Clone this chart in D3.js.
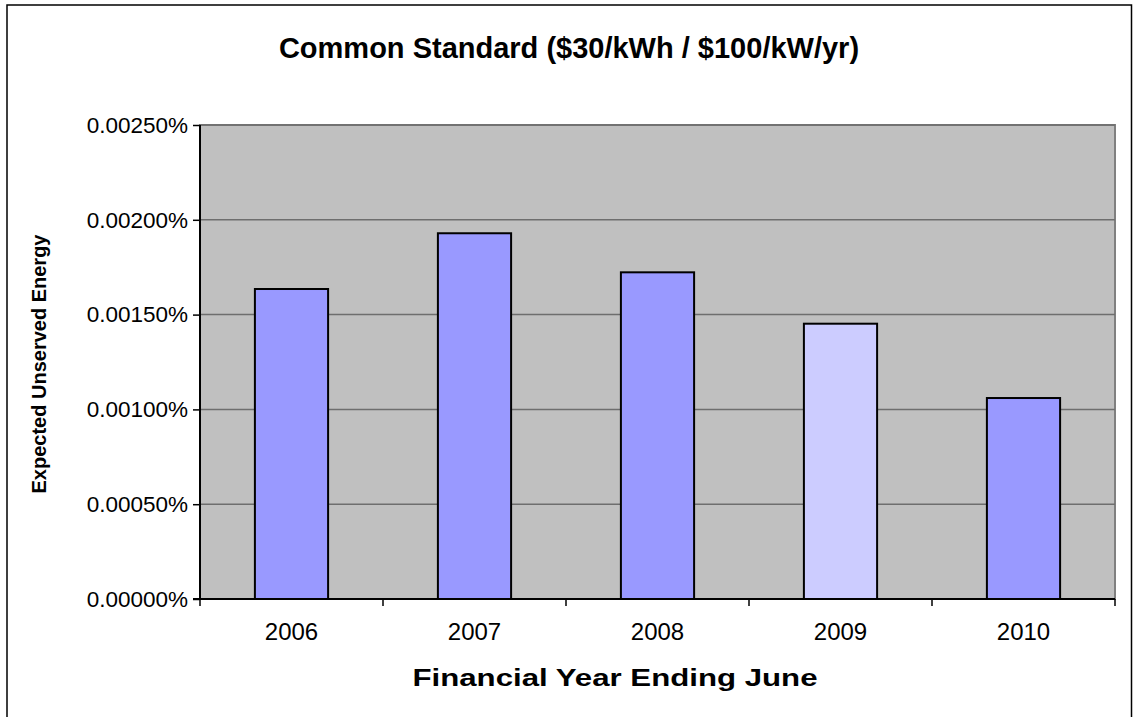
<!DOCTYPE html>
<html>
<head>
<meta charset="utf-8">
<script src="https://cdn.jsdelivr.net/npm/d3@7"></script>
<style>
  body { margin: 0; background: #fff; }
  svg { display: block; font-family: "Liberation Sans", Arial, sans-serif; }
</style>
</head>
<body>
<svg id="chart"></svg>
<script>
"use strict";

// values are already in percent (0.00250 means 0.00250%)
var years = ["2006", "2007", "2008", "2009", "2010"],
    useValues = [0.001635, 0.001929, 0.001723, 0.001452, 0.00106],
    barColors = ["#9999ff", "#9999ff", "#9999ff", "#ccccff", "#9999ff"],
    yTicks = [0, 0.0005, 0.001, 0.0015, 0.002, 0.0025];

var W = 1133, H = 717,
    plot = { left: 200, top: 125, right: 1115, bottom: 599 },
    FONT = "Liberation Sans, Arial, sans-serif";

var svg = d3.select("#chart").attr("width", W).attr("height", H);

// outer chart border
svg.append("rect")
    .attr("x", 7).attr("y", 5)
    .attr("width", 1124.5).attr("height", 730)
    .attr("fill", "#fff")
    .attr("stroke", "#000")
    .attr("stroke-width", 1.5);

var x = d3.scaleBand()
    .domain(years)
    .range([plot.left, plot.right])
    .paddingInner(0.6)
    .paddingOuter(0.3);

var band = (plot.right - plot.left) / years.length;

var y = d3.scaleLinear()
    .domain([0, 0.0025])
    .range([plot.bottom, plot.top]);

// plot background
svg.append("rect")
    .attr("x", plot.left).attr("y", plot.top)
    .attr("width", plot.right - plot.left)
    .attr("height", plot.bottom - plot.top)
    .attr("fill", "#c0c0c0")
    .attr("stroke", "#808080")
    .attr("stroke-width", 2);

// gridlines
svg.append("g")
    .selectAll("line")
    .data(yTicks.slice(1))
    .enter().append("line")
    .attr("x1", plot.left).attr("x2", plot.right)
    .attr("y1", function (d) { return y(d); })
    .attr("y2", function (d) { return y(d); })
    .attr("stroke", "#6e6e6e")
    .attr("stroke-width", 1.5);

// bars
svg.append("g")
    .selectAll("rect")
    .data(useValues)
    .enter().append("rect")
    .attr("x", function (d, i) { return x(years[i]); })
    .attr("y", function (d) { return y(d); })
    .attr("width", x.bandwidth())
    .attr("height", function (d) { return y(0) - y(d); })
    .attr("fill", function (d, i) { return barColors[i]; })
    .attr("stroke", "#000")
    .attr("stroke-width", 2);

// y axis
var yAxis = svg.append("g")
    .attr("transform", "translate(" + plot.left + ",0)")
    .call(d3.axisLeft(y)
        .tickValues(yTicks)
        .tickSize(7)
        .tickPadding(5)
        .tickFormat(function (d) { return d.toFixed(5) + "%"; }));
yAxis.select(".domain").attr("stroke", "#000").attr("stroke-width", 2).attr("d", "M0," + plot.top + "V" + plot.bottom);
yAxis.selectAll(".tick line").attr("stroke", "#000").attr("stroke-width", 1.5);
yAxis.selectAll("text").attr("font-size", 22.5).attr("fill", "#000").attr("font-family", FONT);

// x axis
var xAxis = svg.append("g")
    .attr("transform", "translate(0," + plot.bottom + ")")
    .call(d3.axisBottom(x).tickSize(0).tickPadding(24));
xAxis.select(".domain").attr("stroke", "#000").attr("stroke-width", 2).attr("d", "M" + (plot.left - 7) + ",0H" + plot.right);
xAxis.selectAll("text").attr("font-size", 24).attr("fill", "#000").attr("font-family", FONT);

// category boundary ticks
svg.append("g")
    .selectAll("line")
    .data(d3.range(years.length + 1))
    .enter().append("line")
    .attr("x1", function (i) { return plot.left + i * band; })
    .attr("x2", function (i) { return plot.left + i * band; })
    .attr("y1", plot.bottom)
    .attr("y2", plot.bottom + 7)
    .attr("stroke", "#000")
    .attr("stroke-width", 1.5);

// titles
svg.append("text")
    .attr("x", 569).attr("y", 58)
    .attr("text-anchor", "middle")
    .attr("font-size", 29).attr("font-weight", "bold")
    .text("Common Standard ($30/kWh / $100/kW/yr)");

svg.append("text")
    .attr("x", 615).attr("y", 686)
    .attr("text-anchor", "middle")
    .attr("font-size", 24).attr("font-weight", "bold")
    .attr("textLength", 405).attr("lengthAdjust", "spacingAndGlyphs")
    .text("Financial Year Ending June");

svg.append("text")
    .attr("transform", "translate(46,364) rotate(-90)")
    .attr("text-anchor", "middle")
    .attr("font-size", 20).attr("font-weight", "bold")
    .text("Expected Unserved Energy");
</script>
</body>
</html>
